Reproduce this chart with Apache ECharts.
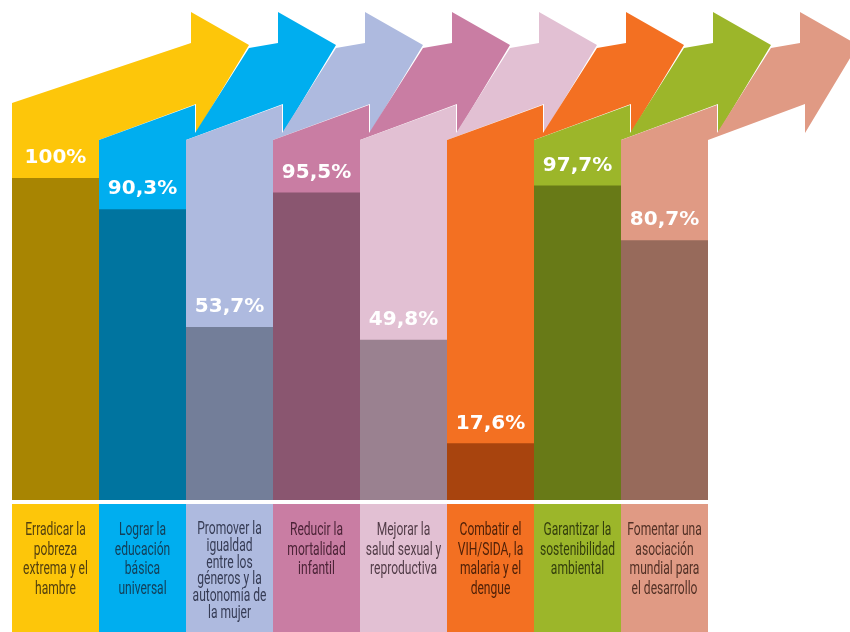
<!DOCTYPE html>
<html>
<head>
<meta charset="utf-8">
<script src="https://cdn.jsdelivr.net/npm/echarts@6/dist/echarts.min.js"></script>
<style>
  html, body { margin: 0; padding: 0; background: #fff; }
  #chart { width: 850px; height: 632px; }
</style>
</head>
<body>
<div id="chart"></div>
<script>
// Objetivos de Desarrollo del Milenio - grado de avance
const categories = [
  'Erradicar la\npobreza\nextrema y el\nhambre',
  'Lograr la\neducación\nbásica\nuniversal',
  'Promover la\nigualdad\nentre los\ngéneros y la\nautonomía de\nla mujer',
  'Reducir la\nmortalidad\ninfantil',
  'Mejorar la\nsalud sexual y\nreproductiva',
  'Combatir el\nVIH/SIDA, la\nmalaria y el\ndengue',
  'Garantizar la\nsostenibilidad\nambiental',
  'Fomentar una\nasociación\nmundial para\nel desarrollo'
]
const values = [100, 90.3, 53.7, 95.5, 49.8, 17.6, 97.7, 80.7]

const lightColors = ['#FDC60A', '#00AEEF', '#AEBADF', '#C97DA3', '#E2C0D3', '#F37022', '#9CB62A', '#E09A84']
const darkColors = ['#A88502', '#00749F', '#737E99', '#8A5670', '#9A8190', '#A8440E', '#687A17', '#976A5B']
const textColors = ['#54410F', '#12405A', '#363C55', '#4C2337', '#523C48', '#502108', '#343F0C', '#533126']

let myEchart = echarts.init(document.getElementById('chart'))

// flecha de fondo de cada columna (desplazamientos en px desde la base)
function renderArrow(params, api) {
  let i = params.dataIndex
  let base = api.coord([i, 0])
  let w = api.size([1, 0])[0]
  let x0 = base[0] - w / 2
  let yb = base[1]
  let head = [
    [x0 + 179, yb - 488],
    [x0 + 237, yb - 455],
    [x0 + 184, yb - 367],
    [x0 + 184, yb - 396],
    [x0 + w, yb - 360],
    [x0 + w, yb]
  ]
  let pts
  if (i === 0) {
    pts = [[x0, yb], [x0, yb - 397], [x0 + 179, yb - 457]].concat(head)
  } else {
    pts = [[x0, yb], [x0, yb - 360], [x0 + 96, yb - 395], [x0 + 96, yb - 367],
      [x0 + 150, yb - 452], [x0 + 179, yb - 457]].concat(head)
  }
  return {
    type: 'polygon',
    shape: {points: pts},
    style: {fill: lightColors[i]}
  }
}

// cajas de texto bajo las columnas
function renderBox(params, api) {
  let i = params.dataIndex
  let base = api.coord([i, 0])
  let w = api.size([1, 0])[0]
  return {
    type: 'group',
    children: [
      {
        type: 'rect',
        shape: {x: base[0] - w / 2, y: base[1] + 4, width: w, height: 140},
        style: {fill: lightColors[i]}
      },
      {
        type: 'text',
        x: base[0],
        y: base[1] + 21,
        scaleX: 0.67,
        style: {
          text: categories[i],
          fill: textColors[i],
          font: '18px Roboto, sans-serif',
          lineHeight: i === 2 ? 16.8 : 19.5,
          align: 'center',
          verticalAlign: 'top'
        }
      }
    ]
  }
}

myEchart.setOption({
  animation: false,
  grid: {left: 12, top: 178, width: 696, height: 322, containLabel: false},
  xAxis: {type: 'category', data: categories, show: false},
  yAxis: {type: 'value', min: 0, max: 100, show: false},
  series: [
    {
      name: 'flechas',
      type: 'custom',
      renderItem: renderArrow,
      clip: false,
      z: 1,
      data: values.map((v, i) => [i, v])
    },
    {
      name: 'avance',
      type: 'bar',
      barWidth: '100%',
      barGap: 0,
      z: 2,
      data: values.map((v, i) => ({value: v, itemStyle: {color: darkColors[i]}})),
      label: {
        show: true,
        position: 'top',
        distance: 10,
        color: '#fff',
        fontFamily: 'DejaVu Sans',
        fontWeight: 'bold',
        fontSize: 20,
        formatter: p => String(p.value).replace('.', ',') + '%'
      }
    },
    {
      name: 'objetivos',
      type: 'custom',
      renderItem: renderBox,
      clip: false,
      z: 2,
      data: values.map((v, i) => [i, 0])
    }
  ]
})
</script>
</body>
</html>
